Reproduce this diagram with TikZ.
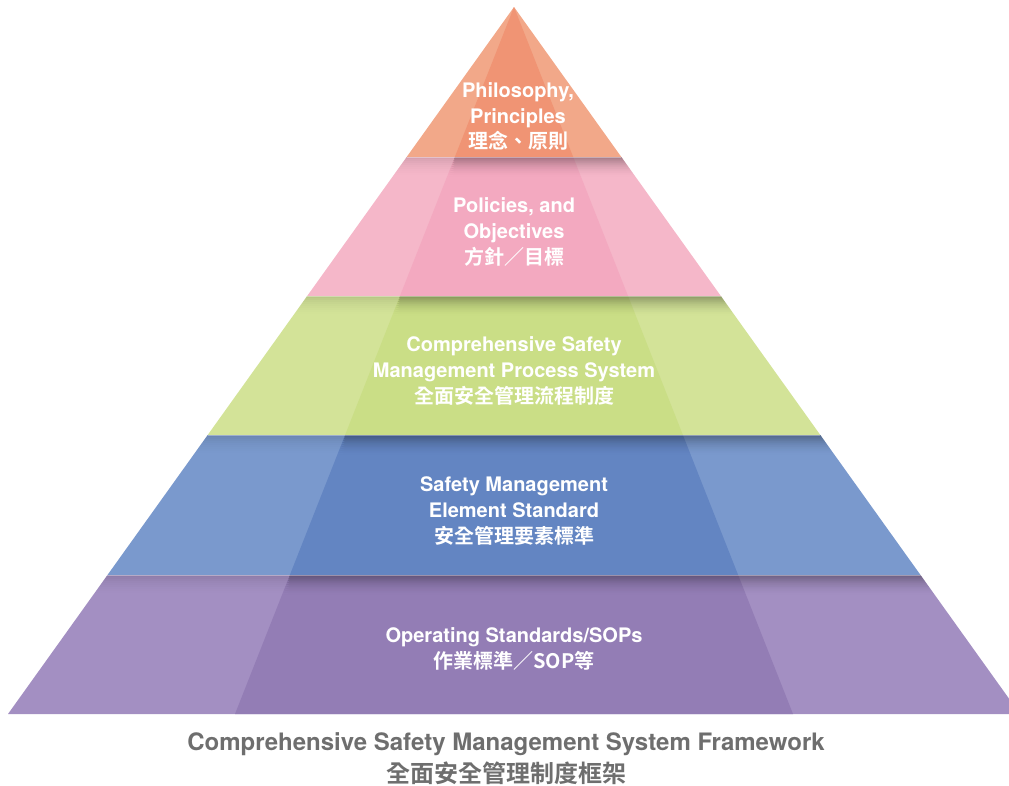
\documentclass[tikz,border=0pt]{standalone}
\usepackage{fontspec}
\setmainfont{TeX Gyre Heros}
\newfontfamily\cjk{Noto Sans CJK TC}[BoldFont={Noto Sans CJK TC Bold}]
\definecolor{orS}{HTML}{F2A889}
\definecolor{orC}{HTML}{F09474}
\definecolor{piS}{HTML}{F5B7C9}
\definecolor{piC}{HTML}{F3A9C0}
\definecolor{grS}{HTML}{D3E398}
\definecolor{grC}{HTML}{CADE86}
\definecolor{blS}{HTML}{7A99CD}
\definecolor{blC}{HTML}{6385C2}
\definecolor{puS}{HTML}{A38FC2}
\definecolor{puC}{HTML}{937DB5}
\definecolor{capgray}{HTML}{6E6E6E}
\begin{document}
\begin{tikzpicture}[x=1pt,y=-1pt,
  lbl/.style={text=white, font=\bfseries\fontsize{20}{26}\selectfont, inner sep=0pt, anchor=base},
  cjklbl/.style={text=white, font=\cjk\bfseries\fontsize{20}{26}\selectfont, inner sep=0pt, anchor=base},
  captxt/.style={text=capgray, font=\bfseries\fontsize{24}{30}\selectfont, inner sep=0pt, anchor=base},
  cjkcaptxt/.style={text=capgray, font=\cjk\bfseries\fontsize{24}{30}\selectfont, inner sep=0pt, anchor=base}]
\useasboundingbox (0,0) rectangle (1009,785);
\clip (0,0) rectangle (1009,785);
\foreach \ya/\yb/\cs/\cc/\sh in {7/157/orS/orC/0, 157/296/piS/piC/1, 296/435/grS/grC/1, 435/575/blS/blC/1, 575/714/puS/puC/1}{
  \pgfmathsetmacro\la{514-0.71570*(\ya-7)}
  \pgfmathsetmacro\ra{514+0.71570*(\ya-7)}
  \pgfmathsetmacro\lb{514-0.71570*(\yb-7)}
  \pgfmathsetmacro\rb{514+0.71570*(\yb-7)}
  \pgfmathsetmacro\ila{514-0.39463*(\ya-7)}
  \pgfmathsetmacro\ira{514+0.39463*(\ya-7)}
  \pgfmathsetmacro\ilb{514-0.39463*(\yb-7)}
  \pgfmathsetmacro\irb{514+0.39463*(\yb-7)}
  \fill[\cs] (\la,\ya) -- (\ra,\ya) -- (\rb,\yb) -- (\lb,\yb) -- cycle;
  \fill[\cc] (\ila,\ya) -- (\ira,\ya) -- (\irb,\yb) -- (\ilb,\yb) -- cycle;
  \ifnum\sh=1
  \begin{scope}
    \clip (\la,\ya) -- (\ra,\ya) -- (\rb,\yb) -- (\lb,\yb) -- cycle;
    \foreach \i in {0,...,9}{
      \pgfmathsetmacro\op{0.12*(1-\i/10)*(1-\i/10)}
      \pgfmathsetmacro\opb{0.20*(1-\i/10)*(1-\i/10)}
      \fill[black, opacity=\op] (0,\ya+2*\i) rectangle (1009,\ya+2*\i+2);
      \fill[black, opacity=\opb] (\ila,\ya+2*\i) -- (1009,\ya+2*\i) -- (1009,\ya+2*\i+2) -- (\ila-0.39463*2*\i-0.8,\ya+2*\i+2) -- cycle;
    }
    \draw[white, opacity=0.35, line width=0.8pt] (\la,\ya) -- (\ra,\ya);
  \end{scope}
  \fi
}
% layer 1
\node[lbl] (l1a) at (518,97) {Philosophy,};
\node[lbl] (l1b) at (518,123) {Principles};
\node[cjklbl] (l1c) at (518,148) {理念、原則};
% layer 2
\node[lbl] (l2a) at (514,212) {Policies, and};
\node[lbl] (l2b) at (514,238) {Objectives};
\node[cjklbl] (l2c) at (514,264) {方針／目標};
% layer 3
\node[lbl] (l3a) at (514,351) {Comprehensive Safety};
\node[lbl] (l3b) at (514,377) {Management Process System};
\node[cjklbl] (l3c) at (514,403) {全面安全管理流程制度};
% layer 4
\node[lbl] (l4a) at (514,491) {Safety Management};
\node[lbl] (l4b) at (514,517) {Element Standard};
\node[cjklbl] (l4c) at (514,543) {安全管理要素標準};
% layer 5
\node[lbl] (l5a) at (514,642) {Operating Standards/SOPs};
\node[cjklbl] (l5b) at (514,668) {作業標準／SOP等};
% caption
\node[captxt] (c1) at (506,750) {Comprehensive Safety Management System Framework};
\node[cjkcaptxt] (c2) at (506,782) {全面安全管理制度框架};
\end{tikzpicture}
\end{document}
